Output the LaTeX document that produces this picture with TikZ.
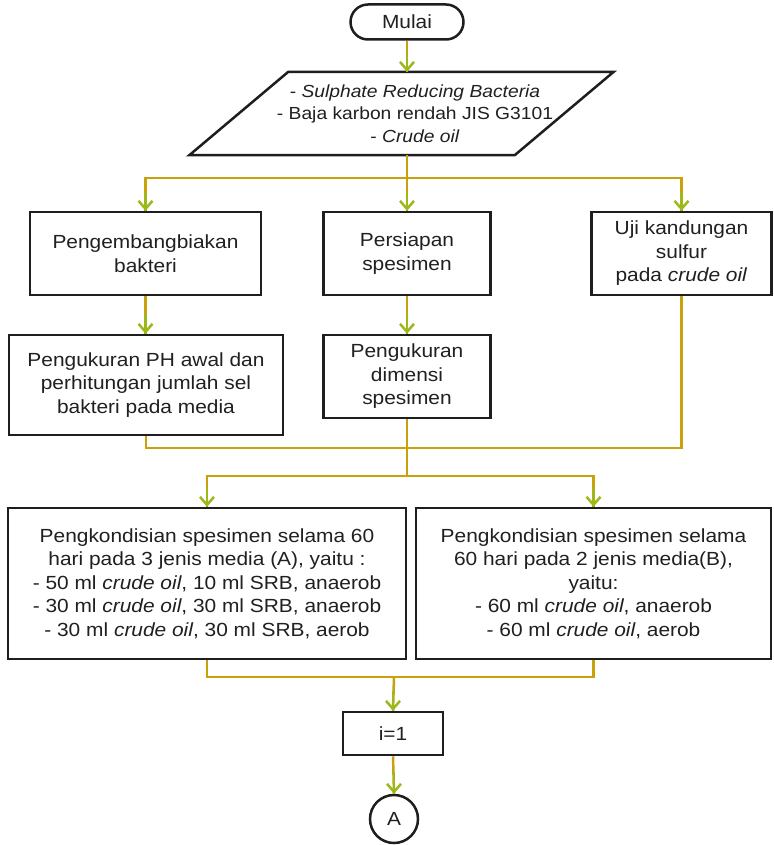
\documentclass[tikz,border=0pt]{standalone}
\usepackage{fontspec}
\setmainfont{Liberation Sans}[FakeStretch=1.1]
\usetikzlibrary{arrows.meta,calc}
\definecolor{cgold}{HTML}{C9A10A}
\definecolor{cgreen}{HTML}{9DB81A}
\definecolor{cbox}{HTML}{1E1E1E}
\definecolor{ctext}{HTML}{202020}
\begin{document}
\begin{tikzpicture}[x=1pt,y=-1pt,
  every node/.style={font=\fontsize{19}{23.5}\selectfont, text=ctext},
  box/.style={draw=cbox, line width=2.5pt, rectangle, align=center, inner sep=0pt},
  conn/.style={draw=cgold, line width=2.5pt},
  tip/.style={draw=cgreen, line width=2.5pt, -{Straight Barb[length=8pt,width=14pt]}}]
\useasboundingbox[fill=white] (0,0) rectangle (773,845);

% nodes
\node[box, rounded corners=17.5pt, minimum width=113pt, minimum height=35pt] (start) at (407,22) {Mulai};
\node[align=center, minimum width=325pt, minimum height=83pt, inner sep=0pt,
      font=\fontsize{17.5}{22.5}\selectfont] (input) at (415,113.5)
  {- \textit{Sulphate Reducing Bacteria}\\- Baja karbon rendah JIS G3101\\- \textit{Crude oil}};
\draw[cbox, line width=2.5pt, line join=miter]
  ($(input.north west)+(36,0)$) -- ($(input.north east)+(36,0)$) --
  ($(input.south east)+(-63,0)$) -- ($(input.south west)+(-63,0)$) -- cycle;

\node[box, minimum width=231pt, minimum height=83pt] (box1) at (145.5,253.5) {Pengembangbiakan\\bakteri};
\node[box, minimum width=167pt, minimum height=83pt] (box2) at (407,253.5) {Persiapan\\spesimen};
\node[box, minimum width=180pt, minimum height=83pt] (box3) at (681.5,253.5) {Uji kandungan\\sulfur\\pada \textit{crude oil}};
\node[box, minimum width=274pt, minimum height=100pt] (box4) at (146,385) {Pengukuran PH awal dan\\perhitungan jumlah sel\\bakteri pada media};
\node[box, minimum width=167pt, minimum height=83pt] (box5) at (407,376.5) {Pengukuran\\dimensi\\spesimen};
\node[box, minimum width=398pt, minimum height=151pt] (box6) at (207,583.5)
  {Pengkondisian spesimen selama 60\\hari pada 3 jenis media (A), yaitu :\\- 50 ml \textit{crude oil}, 10 ml SRB, anaerob\\- 30 ml \textit{crude oil}, 30 ml SRB, anaerob\\- 30 ml \textit{crude oil}, 30 ml SRB, aerob};
\node[box, minimum width=355pt, minimum height=151pt] (box7) at (593.5,583.5)
  {Pengkondisian spesimen selama\\60 hari pada 2 jenis media(B),\\yaitu:\\- 60 ml \textit{crude oil}, anaerob\\- 60 ml \textit{crude oil}, aerob};
\node[box, minimum width=100pt, minimum height=43pt] (init) at (393,733.5) {i=1};
\node[box, circle, minimum size=48pt] (conA) at (394,819) {A};

% junctions
\coordinate (j0) at (start.south |- input.north);
\coordinate (j0b) at (start.south |- input.south);
\coordinate (j1) at (407,178);
\coordinate (j2) at (407,448);
\coordinate (j3) at (407,476);
\coordinate (j4) at (394,677);

% connectors
\draw[conn] (start.south) -- (j0);
\draw[conn] (j0b) -- (j1);
\draw[conn] (j1) -| (box1.north);
\draw[conn] (j1) -- (box2.north);
\draw[conn] (j1) -| (box3.north);
\draw[conn] (box1.south) -- (box1.south |- box4.north);
\draw[conn] (box2.south) -- (box5.north);
\draw[conn] (box3.south) |- (j2);
\draw[conn] (box4.south) |- (j2);
\draw[conn] (box5.south) -- (j2);
\draw[conn] (j2) -- (j3);
\draw[conn] (j3) -| (box6.north);
\draw[conn] (j3) -| (box7.north);
\draw[conn] (box6.south) |- (j4);
\draw[conn] (box7.south) |- (j4);
\draw[conn] (j4) -- (init.north);
\draw[conn] (init.south) -- (conA.north);

% arrow tips
\draw[tip] ([yshift=18pt]j0) -- (j0);
\draw[tip] ([yshift=18pt]box1.north) -- (box1.north);
\draw[tip] ([yshift=18pt]box2.north) -- (box2.north);
\draw[tip] ([yshift=18pt]box3.north) -- (box3.north);
\draw[tip] ([yshift=20pt]box1.south |- box4.north) -- (box1.south |- box4.north);
\draw[tip] ([yshift=20pt]box5.north) -- (box5.north);
\draw[tip] ([yshift=18pt]box6.north) -- (box6.north);
\draw[tip] ([yshift=18pt]box7.north) -- (box7.north);
\draw[tip] ([yshift=20pt]init.north) -- (init.north);
\draw[tip] ([yshift=22pt]conA.north) -- (conA.north);
\end{tikzpicture}
\end{document}
